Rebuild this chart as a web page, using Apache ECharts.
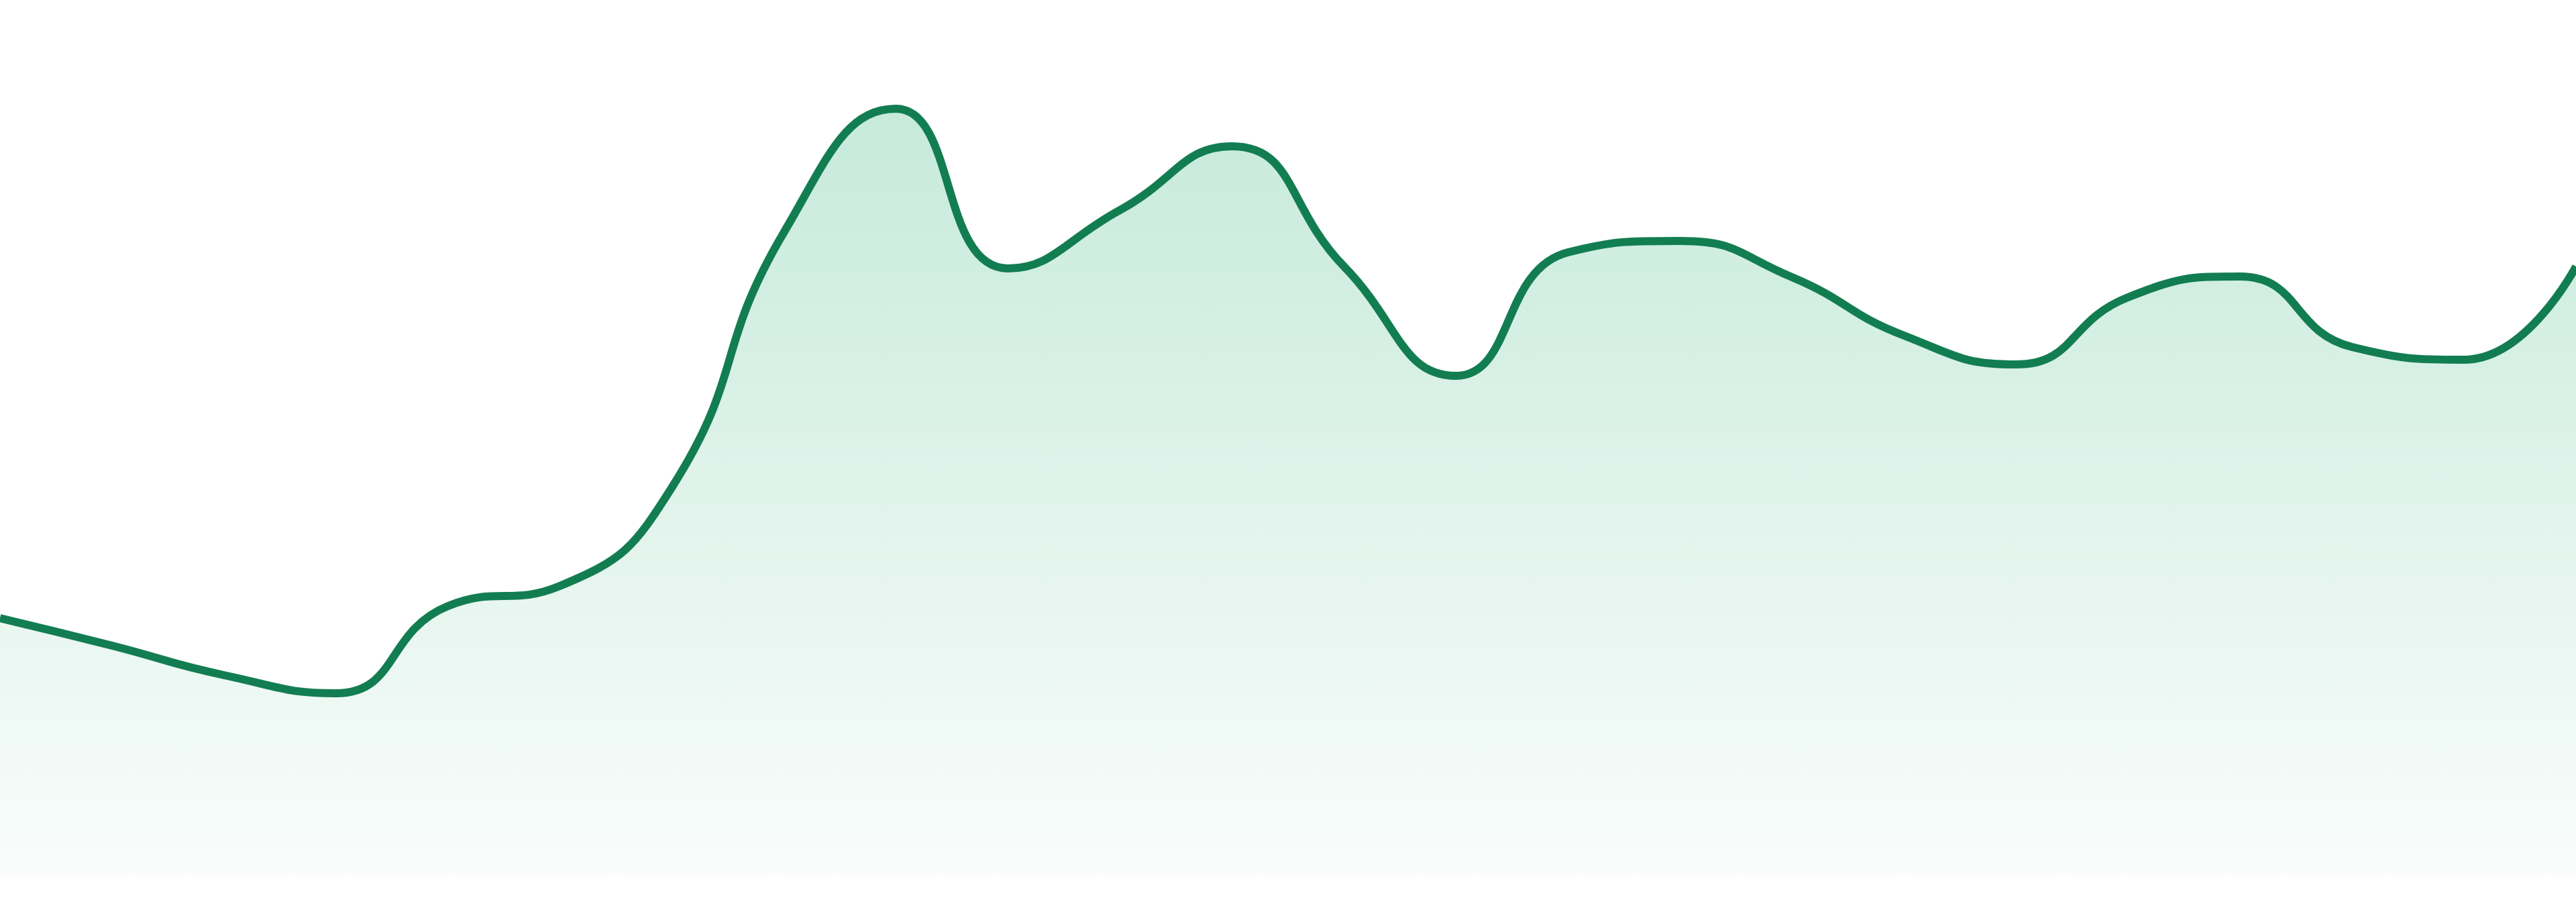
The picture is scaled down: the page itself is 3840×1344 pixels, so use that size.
<!DOCTYPE html>
<html>
<head>
<meta charset="utf-8">
<title>chart</title>
<script src="https://cdn.jsdelivr.net/npm/echarts@6/dist/echarts.min.js"></script>
<style>
  html, body { margin: 0; padding: 0; background: #ffffff; }
  #echartId { width: 3840px; height: 1344px; }
</style>
</head>
<body>
<div id="echartId"></div>
<script>
var categories = ['1','2','3','4','5','6','7','8','9','10','11','12',
                  '13','14','15','16','17','18','19','20','21','22','23','24'];
var values = [38.4, 34.3, 29.9, 27.2, 40.2, 43.2, 57.9, 95.9, 114.3, 90.5, 99.2, 108.7,
              90.8, 74.5, 92.9, 94.6, 89.2, 80.5, 76.2, 86.2, 89.3, 78.8, 76.9, 90.8];
var yMin = 0;
var yMax = 130.5;

var myChart = echarts.init(document.getElementById('echartId'));

var option = {
    animation: false,
    grid: { left: 0, right: 0, top: 0, bottom: 39 },
    xAxis: {
        type: 'category',
        data: categories,
        boundaryGap: false,
        show: false
    },
    yAxis: {
        type: 'value',
        min: yMin,
        max: yMax,
        show: false
    },
    series: [{
        type: 'line',
        data: values,
        smooth: true,
        symbol: 'none',
        lineStyle: { color: '#137d52', width: 12 },
        areaStyle: {
            // pale green under the peak fading to almost white at the base
            color: new echarts.graphic.LinearGradient(0, 0, 0, 1, [
                { offset: 0, color: '#ade0cb' },
                { offset: 1, color: '#f6fbf9' }
            ])
        }
    }]
};
myChart.setOption(option);
</script>
</body>
</html>
